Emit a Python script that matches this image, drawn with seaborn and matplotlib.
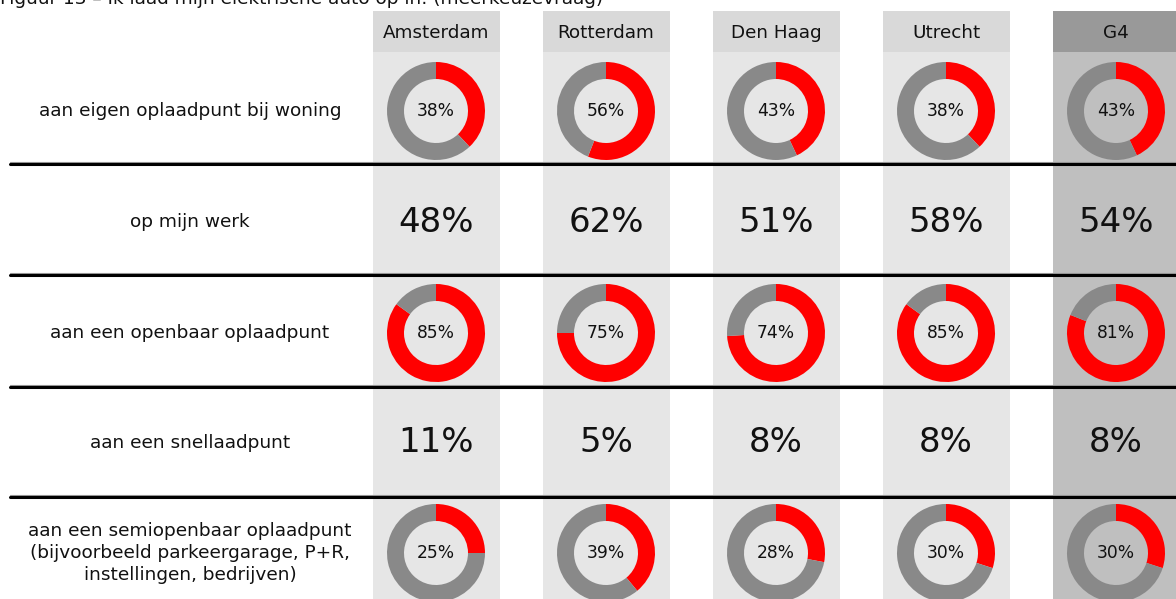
import numpy as np
import seaborn as sns
import matplotlib.pyplot as plt

# ────────── data ──────────
cities     = ["Amsterdam", "Rotterdam", "Den Haag", "Utrecht", "G4"]
row_labels = ["aan eigen oplaadpunt bij woning",
              "op mijn werk",
              "aan een openbaar oplaadpunt",
              "aan een snellaadpunt",
              "aan een semiopenbaar oplaadpunt\n(bijvoorbeeld parkeergarage, P+R,\ninstellingen, bedrijven)"]
eigen      = [38, 56, 43, 38, 43]
werk       = [48, 62, 51, 58, 54]
openbaar   = [85, 75, 74, 85, 81]
snel       = [11, 5, 8, 8, 8]
semi       = [25, 39, 28, 30, 30]
rows       = [("donut", eigen), ("big", werk), ("donut", openbaar),
              ("big", snel), ("donut", semi)]
title      = "Figuur 13 – Ik laad mijn elektrische auto op in: (meerkeuzevraag)"

# ────────── layout (pixels, top-down) ──────────
W, H      = 1176, 599
COL_X     = [436, 606, 776, 946, 1116]
COL_W     = 127
ROW_Y     = [111, 222, 333, 443, 553]
LINE_Y    = [164, 275, 387, 497]
HDR       = (11, 52)
R_OUT, R_W = 49, 17
RED, GREY = "#ff0000", "#898989"

sns.set_theme(style="white")
plt.rcParams['font.family'] = ['DejaVu Sans']

fig = plt.figure(figsize=(W/100, H/100), dpi=100)
ax  = fig.add_axes([0, 0, 1, 1])
Y = lambda py: H - py

# column backgrounds + headers
for i, (cx, name) in enumerate(zip(COL_X, cities)):
    g4 = name == "G4"
    body = "#bfbfbf" if g4 else "#e6e6e6"
    head = "#999999" if g4 else "#d9d9d9"
    x0 = cx - COL_W/2
    ax.add_patch(plt.Rectangle((x0, 0), COL_W, Y(HDR[1]), color=body, lw=0, zorder=0))
    ax.add_patch(plt.Rectangle((x0, Y(HDR[1])), COL_W, HDR[1]-HDR[0], color=head, lw=0, zorder=0))
    ax.text(cx, Y((HDR[0]+HDR[1])/2 + 1), name, ha="center", va="center",
            fontsize=13.2, color="#111111")

# separators
for ly in LINE_Y:
    ax.plot([10, W], [Y(ly-2), Y(ly-2)], color="#999999", lw=0.8, zorder=3)
    ax.plot([10, W], [Y(ly), Y(ly)], color="black", lw=2.2, zorder=3)

# rows
for (kind, vals), lab, ry in zip(rows, row_labels, ROW_Y):
    ax.text(190, Y(ry), lab, ha="center", va="center", fontsize=13.3,
            color="#111111", linespacing=1.3)
    for cx, v in zip(COL_X, vals):
        if kind == "donut":
            ax.pie([v, 100-v], colors=[RED, GREY], startangle=90, counterclock=False,
                   radius=R_OUT, center=(cx, Y(ry)), frame=True,
                   wedgeprops=dict(width=R_W, edgecolor="none"))
            ax.text(cx, Y(ry), f"{v}%", ha="center", va="center", fontsize=12.3,
                    color="#111111", zorder=5)
        else:
            ax.text(cx, Y(ry), f"{v}%", ha="center", va="center", fontsize=24.5,
                    color="#111111", zorder=5)

# partly cropped caption at the top edge
ax.text(0, Y(4), title, ha="left", va="baseline", fontsize=13.3, color="#111111",
        clip_on=False)

ax.set_xlim(0, W); ax.set_ylim(0, H)
ax.set_aspect("auto")
ax.axis("off")
fig.savefig("out.png", dpi=100)
